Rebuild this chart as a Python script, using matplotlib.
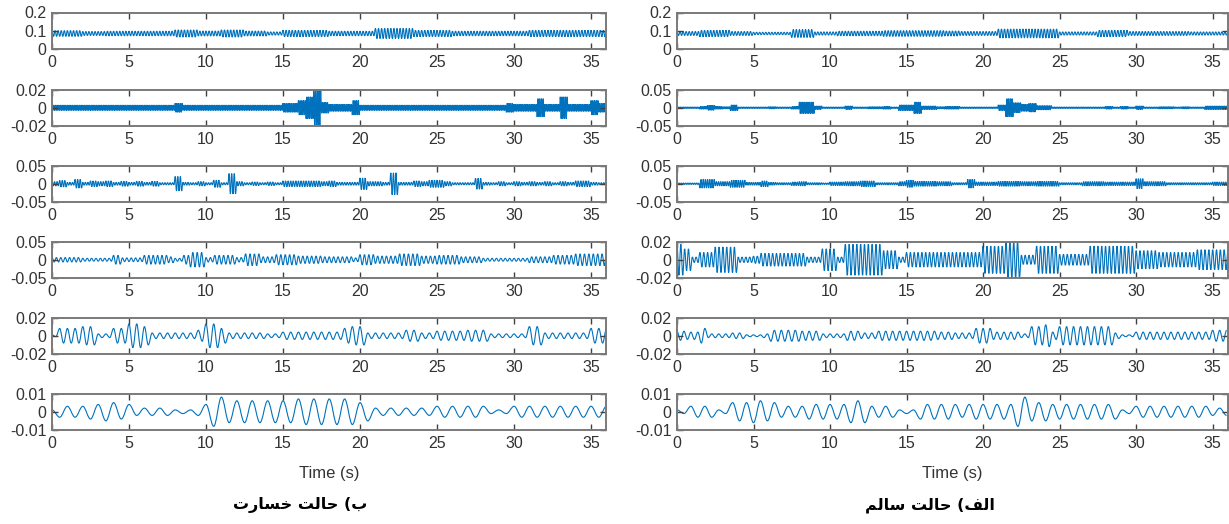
import numpy as np
import matplotlib
matplotlib.use('Agg')
import matplotlib.pyplot as plt
from matplotlib.path import Path
from matplotlib.patches import PathPatch
from matplotlib.ticker import FuncFormatter

plt.rcParams['font.family'] = ['Liberation Sans', 'DejaVu Sans']
plt.rcParams['axes.unicode_minus'] = False

T_END = 36      # s
BIN = 0.5       # width of one envelope bin, s
BLUE = '#0072BD'

# ------------------------------------------------------------
# Signal envelopes: half peak-to-peak amplitude per 0.5 s bin (x 1e-3)
# ------------------------------------------------------------
# damaged state (left column)
env_d1 = [16, 16, 16, 16, 11, 11, 11, 13, 13, 13, 13, 13,
          13, 13, 13, 13, 20, 20, 20, 14, 14, 14, 20, 20,
          20, 14, 14, 14, 9, 9, 18, 18, 18, 18, 18, 18,
          13, 13, 13, 13, 13, 13, 28, 28, 28, 28, 28, 18,
          18, 18, 18, 18, 13, 13, 13, 13, 13, 13, 13, 13,
          13, 13, 18, 18, 18, 18, 18, 18, 18, 18, 18, 18]
env_d2 = [3, 3, 3, 3, 3, 3, 3, 3, 3, 3, 3, 3,
          3, 3, 3, 3, 5, 3, 3, 3, 3, 3, 3, 3,
          3, 3, 3, 3, 3, 3, 5, 5, 8, 12, 19, 6,
          4, 4, 4, 8, 3, 3, 3, 3, 3, 3, 3, 3,
          3, 3, 3, 3, 3, 3, 3, 3, 3, 3, 3, 5,
          4, 4, 4, 10, 4, 4, 12, 4, 4, 4, 8, 5]
env_d3 = [6, 9, 4, 12, 4, 8, 6, 8, 4, 7, 4, 7,
          4, 7, 3, 3, 20, 4, 3, 6, 3, 10, 3, 28,
          6, 3, 5, 3, 5, 3, 8, 8, 8, 8, 8, 6,
          8, 4, 4, 4, 16, 6, 6, 4, 30, 4, 4, 8,
          6, 10, 10, 6, 3, 3, 3, 15, 4, 3, 6, 3,
          6, 4, 6, 4, 6, 3, 6, 4, 8, 8, 4, 3]
env_d4 = [6, 6, 6, 6, 4, 4, 4, 4, 12, 5, 5, 5,
          12, 12, 12, 8, 4, 12, 20, 20, 6, 12, 12, 12,
          6, 16, 16, 8, 8, 14, 14, 14, 10, 10, 10, 8,
          8, 8, 8, 5, 14, 14, 10, 10, 10, 16, 16, 16,
          10, 10, 12, 12, 12, 8, 8, 8, 4, 4, 4, 4,
          4, 4, 8, 8, 8, 12, 12, 12, 16, 16, 16, 16]
env_d5 = [1, 8, 8, 8, 10, 10, 2, 2, 8, 8, 13, 13,
          10, 3, 3, 3, 3, 3, 3, 6, 13, 13, 8, 3,
          3, 3, 3, 3, 2, 2, 4, 4, 4, 4, 4, 4,
          4, 4, 8, 10, 10, 3, 3, 3, 3, 3, 6, 6,
          3, 3, 5, 5, 5, 5, 6, 6, 6, 2, 2, 2,
          2, 2, 10, 10, 3, 3, 3, 3, 3, 3, 8, 8]
env_d6 = [1, 3, 3, 3, 3, 4, 4, 5, 5, 4, 4, 2,
          2, 2, 2, 2, 1, 1, 1, 2, 4, 8, 8, 6,
          6, 6, 6, 6, 6, 6, 6, 6, 7, 7, 7, 7,
          7, 7, 7, 7, 5, 5, 2, 2, 2, 2, 2, 2,
          2, 2, 3, 3, 3, 3, 3, 3, 3, 1, 1, 1,
          3, 3, 3, 3, 3, 3, 3, 3, 3, 3, 3, 3]

# healthy state (right column)
env_h1 = [11, 11, 11, 18, 18, 18, 18, 11, 11, 11, 7, 7,
          7, 7, 7, 22, 22, 22, 9, 9, 9, 13, 13, 13,
          13, 13, 13, 16, 16, 16, 16, 16, 16, 16, 16, 14,
          14, 11, 11, 11, 11, 11, 25, 25, 25, 25, 25, 25,
          25, 25, 9, 9, 9, 9, 9, 18, 18, 18, 18, 11,
          11, 11, 11, 11, 11, 11, 11, 9, 9, 9, 9, 9]
env_h2 = [2, 2, 2, 4, 7, 4, 3, 8, 2, 2, 2, 2,
          3, 2, 2, 4, 16, 16, 5, 2, 2, 2, 5, 2,
          2, 3, 3, 4, 2, 8, 8, 16, 5, 5, 3, 4,
          4, 2, 2, 2, 2, 2, 8, 25, 14, 10, 12, 6,
          6, 2, 2, 2, 2, 2, 2, 2, 4, 2, 4, 2,
          5, 2, 2, 3, 3, 2, 3, 2, 2, 5, 5, 5]
env_h3 = [2, 2, 2, 12, 12, 6, 6, 10, 10, 4, 4, 8,
          4, 3, 3, 5, 6, 3, 3, 2, 5, 5, 6, 6,
          8, 8, 3, 3, 3, 6, 10, 7, 7, 7, 6, 6,
          3, 3, 12, 5, 5, 5, 7, 7, 7, 6, 6, 7,
          7, 7, 3, 3, 3, 6, 6, 6, 5, 5, 5, 5,
          14, 6, 6, 6, 3, 3, 3, 3, 3, 3, 5, 5]
env_h4 = [17, 12, 3, 8, 8, 14, 14, 14, 3, 3, 4, 7,
          7, 7, 7, 7, 7, 3, 3, 12, 12, 3, 17, 17,
          17, 17, 17, 10, 10, 3, 8, 8, 8, 8, 8, 8,
          8, 8, 8, 8, 15, 15, 15, 20, 20, 5, 5, 15,
          15, 15, 6, 6, 6, 6, 15, 15, 15, 15, 15, 15,
          10, 10, 10, 8, 8, 8, 8, 8, 11, 11, 11, 11]
env_h5 = [5, 4, 4, 8, 2, 2, 2, 3, 3, 1, 1, 2,
          6, 6, 6, 6, 5, 5, 5, 2, 2, 2, 5, 5,
          3, 3, 5, 5, 5, 5, 5, 5, 5, 5, 4, 4,
          3, 3, 3, 8, 8, 4, 4, 4, 4, 2, 10, 10,
          12, 4, 10, 10, 10, 10, 10, 10, 10, 3, 1, 1,
          4, 4, 4, 4, 4, 4, 4, 4, 4, 4, 6, 6]
env_h6 = [1, 3, 3, 3, 3, 1, 1, 5, 5, 5, 6, 5,
          5, 3, 3, 3, 3, 4, 4, 4, 4, 4, 6, 6,
          6, 3, 3, 3, 3, 1, 1, 4, 4, 4, 4, 4,
          4, 3, 4, 4, 4, 4, 4, 4, 8, 8, 5, 5,
          5, 4, 4, 4, 4, 4, 4, 4, 4, 4, 1, 1,
          3, 3, 3, 3, 3, 3, 3, 3, 3, 3, 2, 2]

# oscillation rate of each component, cycles per second
rates_damaged = [5, 9, 6, 3.5, 2, 1.0]
rates_healthy = [5, 9, 7, 4, 2.2, 1.1]

# mean level of each component
centers = [0.085, 0, 0, 0, 0, 0]

# y limits of each row
ylims_damaged = [(0, 0.2), (-0.02, 0.02), (-0.05, 0.05), (-0.05, 0.05), (-0.02, 0.02), (-0.01, 0.01)]
ylims_healthy = [(0, 0.2), (-0.05, 0.05), (-0.05, 0.05), (-0.02, 0.02), (-0.02, 0.02), (-0.01, 0.01)]

envs_damaged = [env_d1, env_d2, env_d3, env_d4, env_d5, env_d6]
envs_healthy = [env_h1, env_h2, env_h3, env_h4, env_h5, env_h6]

xticks = [0, 5, 10, 15, 20, 25, 30, 35]

# captions (Persian, laid out right-to-left with joined letter forms)
caption_damaged = '\uFE95\uFEAD\uFE8E\uFEB4\uFEA7 \uFE96\uFEDF\uFE8E\uFEA3 (\uFE8F'   # ب) حالت خسارت
caption_healthy = '\uFEE2\uFEDF\uFE8E\uFEB3 \uFE96\uFEDF\uFE8E\uFEA3 (\uFED2\uFEDF\uFE8D'  # الف) حالت سالم


def draw_trace(ax, env, rate, center):
    """Oscillation with the given envelope, drawn as smooth arcs between extrema."""
    env = np.asarray(env) * 1e-3
    half = 0.5 / rate
    t = np.arange(0, T_END + half / 2, half)
    amp = env[np.minimum((t / BIN).astype(int), len(env) - 1)]
    sign = np.where(np.arange(len(t)) % 2 == 0, 1, -1)
    v = center + sign * amp
    k = 0.36 * half
    verts = [(t[0], v[0])]
    codes = [Path.MOVETO]
    for i in range(1, len(t)):
        verts += [(t[i - 1] + k, v[i - 1]), (t[i] - k, v[i]), (t[i], v[i])]
        codes += [Path.CURVE4] * 3
    ax.add_patch(PathPatch(Path(verts, codes), fill=False, ec=BLUE, lw=0.8))


def style_axes(ax, ylim):
    ax.set_xlim(0, T_END)
    ax.set_ylim(*ylim)
    ax.set_xticks(xticks)
    ax.set_yticks([ylim[0], 0.5 * (ylim[0] + ylim[1]), ylim[1]])
    ax.yaxis.set_major_formatter(FuncFormatter(lambda v, _: f'{v:g}'))
    ax.tick_params(direction='in', top=True, right=True, length=4, width=1,
                   color='#404040', labelcolor='#333333', labelsize=11.5, pad=4)
    for sp in ax.spines.values():
        sp.set_color('#7a7a7a')
        sp.set_linewidth(1.4)


W, H = 1229, 524
fig = plt.figure(figsize=(W / 100, H / 100), dpi=100)

row_bottoms = [49, 126, 202, 278, 354, 430]   # px from top
row_h = 36.5
cols = [(52, 554.5, envs_damaged, rates_damaged, ylims_damaged),
        (677, 551, envs_healthy, rates_healthy, ylims_healthy)]

for x0, w, envs, rates, ylims in cols:
    for r in range(6):
        ax = fig.add_axes([x0 / W, (H - row_bottoms[r]) / H, w / W, row_h / H])
        draw_trace(ax, envs[r], rates[r], centers[r])
        style_axes(ax, ylims[r])
    ax.set_xlabel('Time (s)', fontsize=12, color='#333333', labelpad=11)

fig.text(300 / W, 1 - 505 / H, caption_damaged, ha='center', va='center',
         fontsize=11.5, fontweight='bold', family=['DejaVu Sans'])
fig.text(930 / W, 1 - 505 / H, caption_healthy, ha='center', va='center',
         fontsize=11.5, fontweight='bold', family=['DejaVu Sans'])

fig.savefig('out.png', dpi=100)
